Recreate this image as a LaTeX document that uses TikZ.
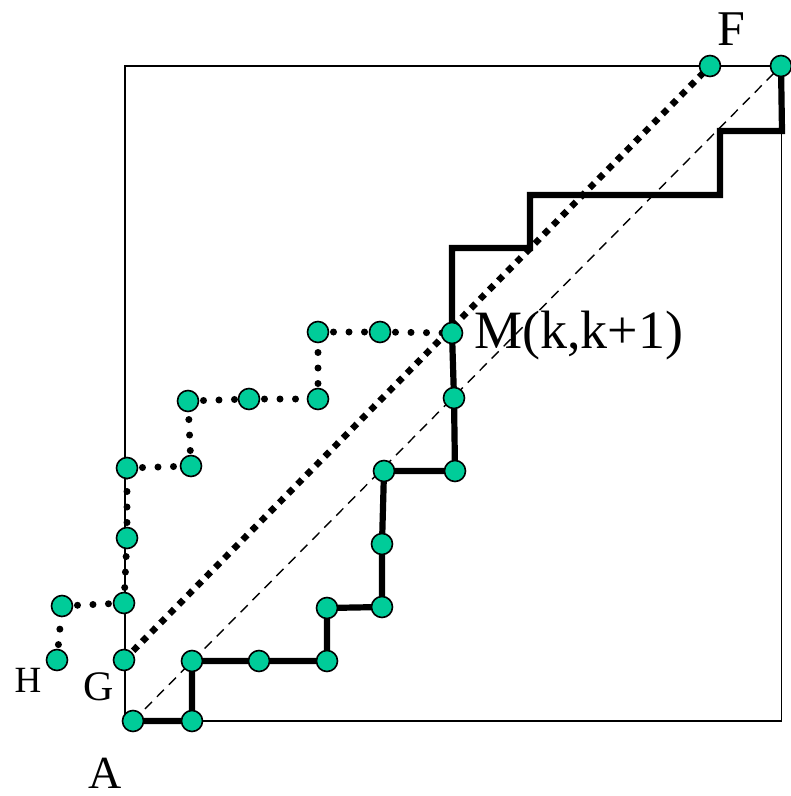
\documentclass[tikz,border=0pt]{standalone}
\usepackage{fontspec}
\setmainfont{Liberation Serif}
\begin{document}
\begin{tikzpicture}[x=1pt,y=-1pt,
  pt/.style={circle,draw=black,line width=1.6pt,fill=ptgreen,minimum size=21pt,inner sep=0pt},
  thinline/.style={line width=1.6pt},
  thickpath/.style={line width=6.2pt,line join=miter},
  dotpath/.style={line width=7pt,line cap=round,dash pattern=on 0pt off 15.5pt},
  diagdots/.style={line width=6.5pt,dash pattern=on 6.5pt off 6.5pt},
  diagdash/.style={line width=1.4pt,dash pattern=on 10pt off 7pt},
  lab/.style={anchor=base,inner sep=0pt}]
\definecolor{ptgreen}{RGB}{0,204,153}
\useasboundingbox (0,0) rectangle (791,796);
% square
\draw[thinline] (125,66) rectangle (781.5,721);
% coordinates
\coordinate (A) at (133,721);
\coordinate (B1) at (192,721);
\coordinate (B2) at (192,661);
\coordinate (B3) at (259,661);
\coordinate (B4) at (327,661);
\coordinate (B5) at (327,608);
\coordinate (B6) at (382,607);
\coordinate (B7) at (382,544);
\coordinate (B8) at (384,471);
\coordinate (B9) at (455,471);
\coordinate (B10) at (454,398);
\coordinate (M) at (452,333);
\coordinate (S1) at (452,248);
\coordinate (S2) at (530,248);
\coordinate (S3) at (530,195);
\coordinate (S4) at (720,195);
\coordinate (S5) at (720,131);
\coordinate (S6) at (782,131);
\coordinate (T) at (781,66);
\coordinate (F) at (710,66);
\coordinate (G) at (124,660);
\coordinate (H) at (57,660);
\coordinate (D1) at (62,606);
\coordinate (D2) at (124,603);
\coordinate (D3) at (127,538);
\coordinate (D4) at (127,468);
\coordinate (D5) at (191,466);
\coordinate (D6) at (188,401);
\coordinate (D7) at (249,399);
\coordinate (D8) at (318,399);
\coordinate (D9) at (318,332);
\coordinate (D10) at (380,332);
% diagonals
\draw[diagdash] (A) -- (T);
\draw[diagdots] (G) -- (F);
% thick staircase
\draw[thickpath] (A) -- (B1) -- (B2) -- (B3) -- (B4) -- (B5) -- (B6) -- (B7) -- (B8) -- (B9) -- (B10) -- (M) -- (S1) -- (S2) -- (S3) -- (S4) -- (S5) -- (S6) -- (T);
% dotted path
\draw[dotpath] (H) -- (D1);
\draw[dotpath] (D1) -- (D2);
\draw[dotpath] (D2) -- (D3);
\draw[dotpath] (D3) -- (D4);
\draw[dotpath] (D4) -- (D5);
\draw[dotpath] (D5) -- (D6);
\draw[dotpath] (D6) -- (D7);
\draw[dotpath] (D7) -- (D8);
\draw[dotpath] (D8) -- (D9);
\draw[dotpath] (D9) -- (D10);
\draw[dotpath] (D10) -- (M);
% circles
\foreach \p in {A,B1,B2,B3,B4,B5,B6,B7,B8,B9,B10,M,F,T,G,H,D1,D2,D3,D4,D5,D6,D7,D8,D9,D10}
  \node[pt] (n\p) at (\p) {};
% labels
\node[lab,font=\fontsize{50}{58}\selectfont] (lF) at (731,45) {F};
\node[lab,font=\fontsize{54}{62}\selectfont,anchor=base west] (lM) at (474,348) {M(k,k+1)};
\node[lab,font=\fontsize{37}{44}\selectfont] (lH) at (28,692) {H};
\node[lab,font=\fontsize{42}{50}\selectfont] (lG) at (99,700) {G};
\node[lab,font=\fontsize{46}{54}\selectfont] (lA) at (105,788) {A};
\end{tikzpicture}
\end{document}
